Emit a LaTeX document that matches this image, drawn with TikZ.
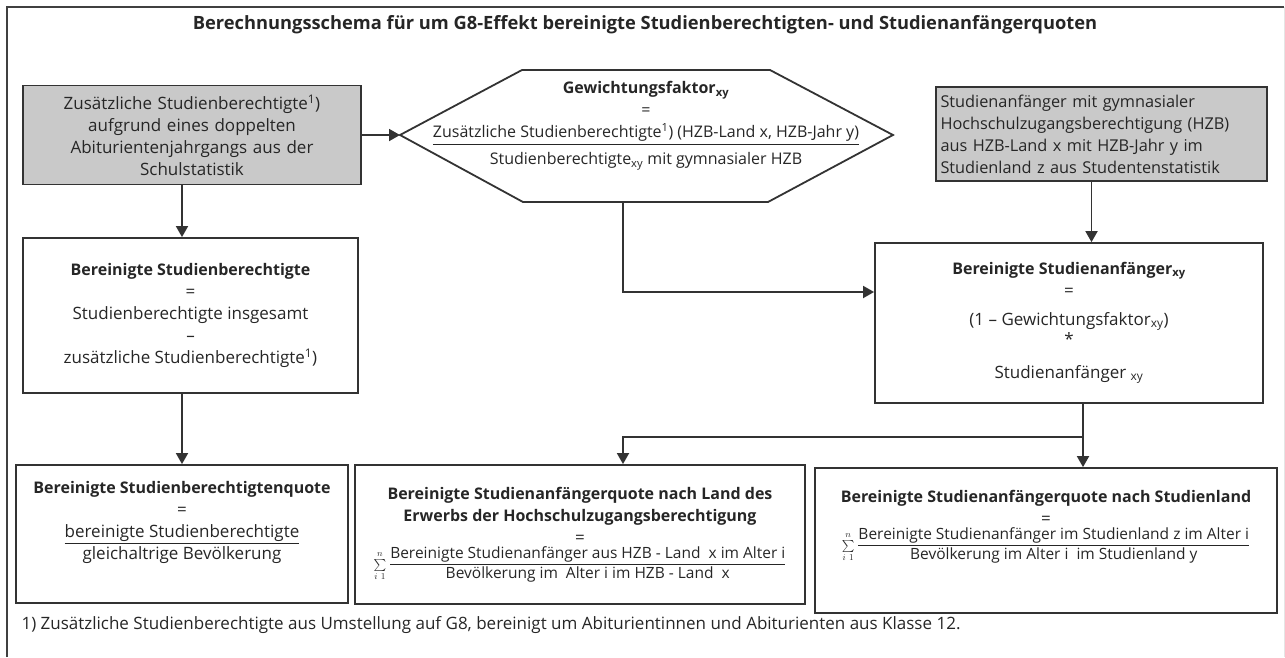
\documentclass[tikz,border=0pt]{standalone}
\usepackage{amsmath}
\usepackage{fontspec}
\setmainfont{Open Sans}
\usetikzlibrary{arrows.meta}
\usetikzlibrary{positioning}
\newcommand{\kopf}[1]{{\fontsize{16}{22}\selectfont\bfseries #1}}
\newcommand{\bruch}[2]{{\fontsize{13}{13}\selectfont$\sum\limits_{i\ 1}^{n}$}\,{\fontsize{15.5}{22}\selectfont$\dfrac{\text{#1}}{\text{#2}}$}}

\begin{document}
\begin{tikzpicture}[x=1pt,y=-1pt,line join=miter,
  every node/.style={font=\fontsize{17}{22}\selectfont,text=black!85},
  box/.style={draw=black!80,line width=1.8pt,align=center,inner sep=0pt},
  graybox/.style={box,fill=black!21},
  arr/.style={draw=black!80,line width=1.8pt,-{Triangle[length=11pt,width=12pt]}}]
\useasboundingbox (0,0) rectangle (1285,657);
\draw[black!75,line width=2pt] (7,657)--(7,7)--(1284,7);
\draw[black!10,line width=1pt] (1284,7)--(1284,657);
\node[font=\bfseries\fontsize{18.3}{20}\selectfont] (titel) at (645,25) {Berechnungsschema für um G8-Effekt bereinigte Studienberechtigten- und Studienanfängerquoten};

\node[graybox,minimum width=338,minimum height=99,text width=330] (zusatz) at (192,135) {Zusätzliche Studienberechtigte\textsuperscript{1})\\aufgrund eines doppelten\\Abiturientenjahrgangs aus der\\Schulstatistik};
\draw[black!80,line width=1.8pt] (400,135) coordinate (hexL)--(522,70)--(770,70)--(893,135)--(768,202)--(523,202)--cycle;
\coordinate (hexB) at (623,202);
\node[align=center,font=\fontsize{16}{22}\selectfont] (gew) at (646,126) {\kopf{Gewichtungsfaktor\textsubscript{xy}}\\=\\\underline{Zusätzliche Studienberechtigte\textsuperscript{1}) (HZB-Land x, HZB-Jahr y)}\\[5pt]Studienberechtigte\textsubscript{xy} mit gymnasialer HZB};
\node[graybox,minimum width=331,minimum height=94,text width=322,align=left,font=\fontsize{16.3}{22}\selectfont] (anfaenger) at (1101.5,134) {Studienanfänger mit gymnasialer\\Hochschulzugangsberechtigung (HZB)\\aus HZB-Land x mit HZB-Jahr y im\\Studienland z aus Studentenstatistik};

\node[box,minimum width=335,minimum height=155] (bereinigtBer) at (190.5,315.5) {\kopf{Bereinigte Studienberechtigte}\\=\\Studienberechtigte insgesamt\\--\\zusätzliche Studienberechtigte\textsuperscript{1})};
\node[box,minimum width=388,minimum height=160] (bereinigtAnf) at (1069,323) {\kopf{Bereinigte Studienanfänger\textsubscript{xy}}\\=\\[7pt](1 -- Gewichtungsfaktor\textsubscript{xy})\\[-2pt]*\\[11pt]Studienanfänger \textsubscript{xy}};

\node[box,minimum width=332,minimum height=138] (quoteBer) at (182,534) {\kopf{Bereinigte Studienberechtigtenquote}\\=\\\underline{bereinigte Studienberechtigte}\\gleichaltrige Bevölkerung\\[6pt]~};
\node[box,minimum width=450,minimum height=139] (quoteLand) at (580,534.5) {\kopf{Bereinigte Studienanfängerquote nach Land des}\\\kopf{Erwerbs der Hochschulzugangsberechtigung}\\=\\[3pt]\bruch{Bereinigte Studienanfänger aus HZB - Land\ \ x im Alter i}{Bevölkerung im\ \ Alter i im HZB - Land\ \ x}};
\node[box,minimum width=462,minimum height=145] (quoteStud) at (1046,540.5) {\kopf{Bereinigte Studienanfängerquote nach Studienland}\\=\\[3pt]\bruch{Bereinigte Studienanfänger im Studienland z im Alter i}{Bevölkerung im Alter i\ \ im Studienland y}\\[20pt]~};

\node[anchor=west] (fussnote) at (18,625) {1) Zusätzliche Studienberechtigte aus Umstellung auf G8, bereinigt um Abiturientinnen und Abiturienten aus Klasse 12.};

\coordinate (knick) at (623,292);
\coordinate (split) at (1083,437);
\draw[arr] (zusatz.east)--(hexL);
\draw[arr] (zusatz.south -| quoteBer.north)--(bereinigtBer.north -| quoteBer.north);
\draw[arr] (bereinigtBer.south -| quoteBer.north)--(quoteBer.north);
\draw[arr] ([xshift=-10]anfaenger.south)--([xshift=-10]anfaenger.south |- bereinigtAnf.north);
\draw[arr] (hexB)--(knick)--(knick -| bereinigtAnf.west);
\draw[black!80,line width=1.8pt] (bereinigtAnf.south -| split)--(split);
\draw[arr] (split)--(split |- quoteStud.north);
\draw[arr] (split)-|(hexB |- quoteLand.north);
\end{tikzpicture}
\end{document}
